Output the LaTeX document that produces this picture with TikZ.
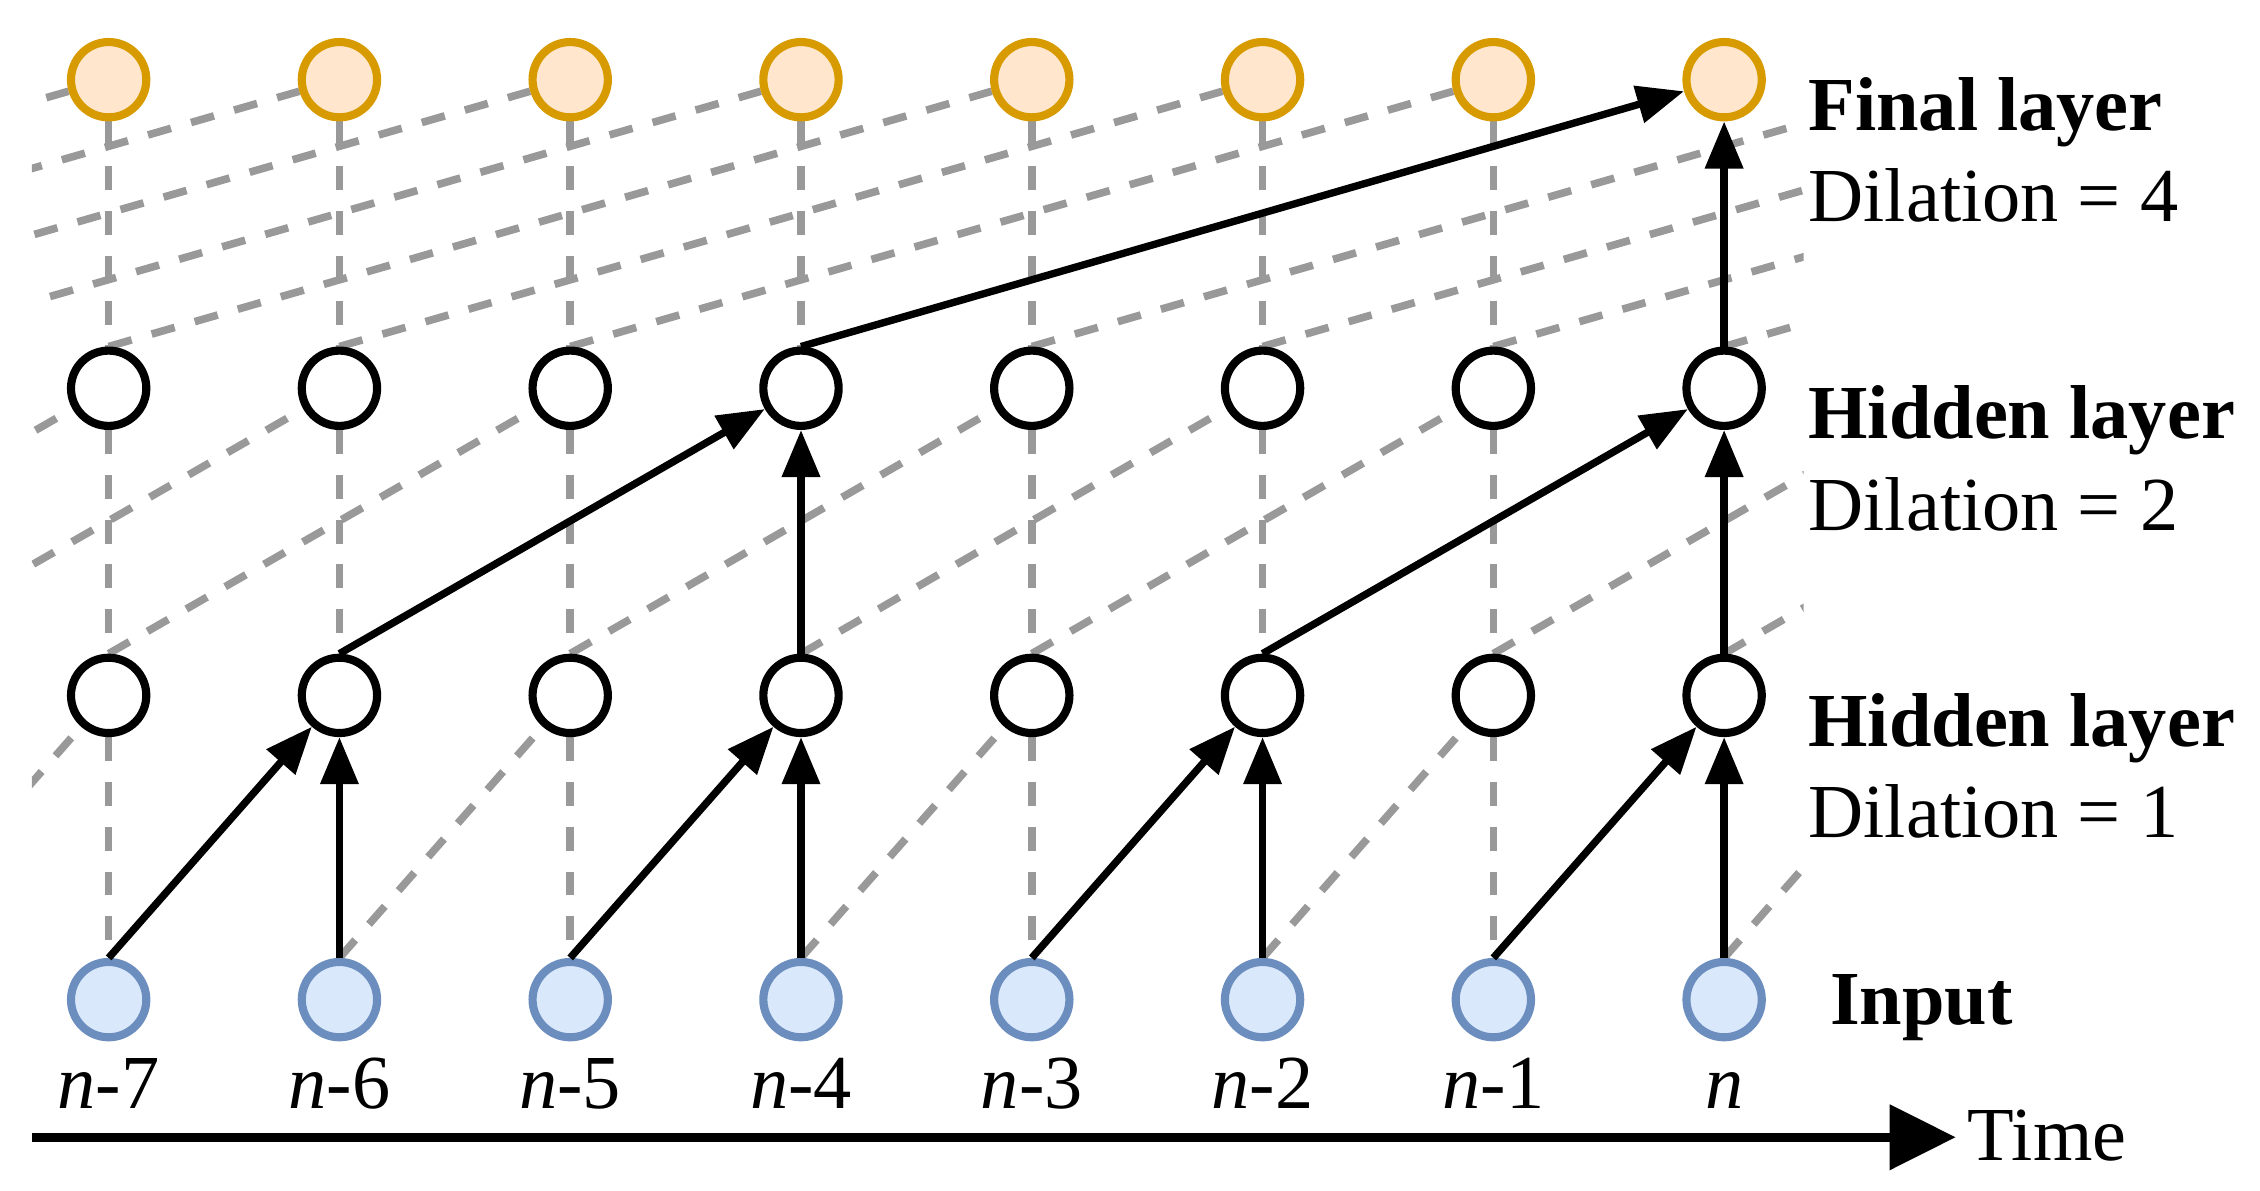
\documentclass[tikz,border=0pt]{standalone}
\usepackage{fontspec}
\setmainfont{Liberation Serif}
\usetikzlibrary{arrows.meta,backgrounds}
\definecolor{finalfill}{HTML}{FFE6CC}
\definecolor{finaldraw}{HTML}{D79B00}
\definecolor{inputfill}{HTML}{DAE8FC}
\definecolor{inputdraw}{HTML}{6C8EBF}
\definecolor{dashgray}{HTML}{999999}
\begin{document}
\begin{tikzpicture}[x=0.02cm,y=-0.02cm,
  neuron/.style={circle,minimum size=1.04cm,inner sep=0pt,line width=3.2pt},
  finalnode/.style={neuron,draw=finaldraw,fill=finalfill},
  hiddennode/.style={neuron,draw=black,fill=white},
  inputnode/.style={neuron,draw=inputdraw,fill=inputfill},
  grayline/.style={draw=dashgray,line width=3pt,dash pattern=on 9.4pt off 8.2pt},
  activeline/.style={draw=black,line width=2.9pt,-{Triangle[length=18.5pt,width=14.5pt]}},
  labeltext/.style={font=\fontsize{30}{36}\selectfont,inner sep=0pt,anchor=base west},
  steplabel/.style={font=\fontsize{30}{36}\selectfont,inner sep=0pt,anchor=base},
  timeaxis/.style={draw=black,line width=3.6pt,-{Triangle[length=26pt,width=25pt]}}
]
\useasboundingbox (0,0) rectangle (1560,822);

% nodes
\foreach \i in {0,...,7} {
  \pgfmathsetmacro\xx{75+159.3*\i}
  \node[finalnode]  (F\i) at (\xx,55)  {};
  \node[hiddennode] (B\i) at (\xx,268) {};
  \node[hiddennode] (A\i) at (\xx,480) {};
  \node[inputnode]  (I\i) at (\xx,690) {};
}

% virtual off-picture positions
\coordinate (Ivm1) at (-84.3,661);
\coordinate (Av8)  at (1349.4,480);
\coordinate (Avm2) at (-243.6,451);
\coordinate (Avm1) at (-84.3,451);
\coordinate (Bv8)  at (1349.4,268);
\coordinate (Bv9)  at (1508.7,268);
\coordinate (Bvm4) at (-562.2,239);
\coordinate (Bvm3) at (-402.9,239);
\coordinate (Bvm2) at (-243.6,239);
\coordinate (Bvm1) at (-84.3,239);
\coordinate (Fv8)  at (1349.4,55);
\coordinate (Fv9)  at (1508.7,55);
\coordinate (Fv10) at (1668.0,55);
\coordinate (Fv11) at (1827.3,55);

% full network (gray dashed)
\begin{scope}[on background layer]
  \clip (22,0) rectangle (1245,822);
  % vertical
  \foreach \i in {0,...,6} {\draw[grayline] (F\i.south) -- (B\i.north);}
  \foreach \i in {0,1,2,4,5,6} {\draw[grayline] (B\i.south) -- (A\i.north);}
  \foreach \i in {0,2,4,6} {\draw[grayline] (A\i.south) -- (I\i.north);}
  % dilation 1
  \draw[grayline] (Ivm1) -- (A0);
  \draw[grayline] (I1.north) -- (A2);
  \draw[grayline] (I3.north) -- (A4);
  \draw[grayline] (I5.north) -- (A6);
  \draw[grayline] (I7.north) -- (Av8);
  % dilation 2
  \draw[grayline] (Avm2) -- (B0);
  \draw[grayline] (Avm1) -- (B1);
  \draw[grayline] (A0.north) -- (B2);
  \draw[grayline] (A2.north) -- (B4);
  \draw[grayline] (A3.north) -- (B5);
  \draw[grayline] (A4.north) -- (B6);
  \draw[grayline] (A6.north) -- (Bv8);
  \draw[grayline] (A7.north) -- (Bv9);
  % dilation 4
  \draw[grayline] (Bvm4) -- (F0);
  \draw[grayline] (Bvm3) -- (F1);
  \draw[grayline] (Bvm2) -- (F2);
  \draw[grayline] (Bvm1) -- (F3);
  \draw[grayline] (B0.north) -- (F4);
  \draw[grayline] (B1.north) -- (F5);
  \draw[grayline] (B2.north) -- (F6);
  \draw[grayline] (B4.north) -- (Fv8);
  \draw[grayline] (B5.north) -- (Fv9);
  \draw[grayline] (B6.north) -- (Fv10);
  \draw[grayline] (B7.north) -- (Fv11);
\end{scope}

% receptive field of output n (solid)
\draw[activeline] (I0.north) -- (A1);
\draw[activeline] (I1.north) -- (A1.south);
\draw[activeline] (I2.north) -- (A3);
\draw[activeline] (I3.north) -- (A3.south);
\draw[activeline] (I4.north) -- (A5);
\draw[activeline] (I5.north) -- (A5.south);
\draw[activeline] (I6.north) -- (A7);
\draw[activeline] (I7.north) -- (A7.south);
\draw[activeline] (A1.north) -- (B3);
\draw[activeline] (A3.north) -- (B3.south);
\draw[activeline] (A5.north) -- (B7);
\draw[activeline] (A7.north) -- (B7.south);
\draw[activeline] (B3.north) -- (F7);
\draw[activeline] (B7.north) -- (F7.south);

% layer labels
\node[labeltext] (lfin) at (1248,90)  {\textbf{Final layer}};
\node[labeltext] (ld4)  at (1248,153) {Dilation = 4};
\node[labeltext] (lh2)  at (1248,303) {\textbf{Hidden layer}};
\node[labeltext] (ld2)  at (1248,366) {Dilation = 2};
\node[labeltext] (lh1)  at (1248,515) {\textbf{Hidden layer}};
\node[labeltext] (ld1)  at (1248,578) {Dilation = 1};
\node[labeltext] (lin)  at (1263,707) {\textbf{Input}};

% time step labels
\node[steplabel] (L0) at (I0.center |- 0,765) {\textit{n}-7};
\node[steplabel] (L1) at (I1.center |- 0,765) {\textit{n}-6};
\node[steplabel] (L2) at (I2.center |- 0,765) {\textit{n}-5};
\node[steplabel] (L3) at (I3.center |- 0,765) {\textit{n}-4};
\node[steplabel] (L4) at (I4.center |- 0,765) {\textit{n}-3};
\node[steplabel] (L5) at (I5.center |- 0,765) {\textit{n}-2};
\node[steplabel] (L6) at (I6.center |- 0,765) {\textit{n}-1};
\node[steplabel] (L7) at (I7.center |- 0,765) {\textit{n}};

% time axis
\coordinate (T0) at (22,785);
\coordinate (T1) at (1350,785);
\draw[timeaxis] (T0) -- (T1);
\node[labeltext] (ltime) at (1358,801) {Time};
\end{tikzpicture}
\end{document}
